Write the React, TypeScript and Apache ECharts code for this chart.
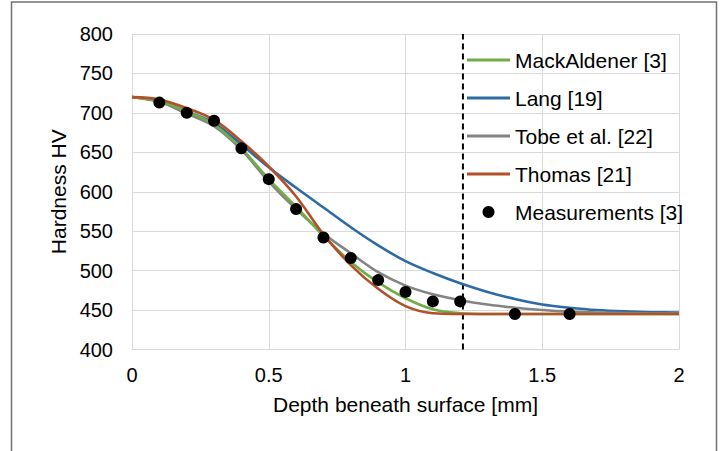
import React, { useEffect, useRef } from "react";
import * as echarts from "echarts";

const depth = [0, 0.1, 0.2, 0.3, 0.4, 0.5, 0.6, 0.7, 0.8, 0.9, 1.0, 1.1, 1.2, 1.3, 1.4, 1.5, 1.6, 1.7, 1.8, 1.9, 2.0];
const mackAldener = [720, 715, 702, 685, 655, 616, 581, 544, 511, 485, 465, 451, 446, 445, 445, 445, 445, 445, 445, 445, 445];
const lang = [720, 715, 702, 687, 660, 631, 605, 580, 555, 532, 512, 497, 484, 473, 464, 457, 453, 450, 448.3, 447.3, 446.7];
const tobe = [720, 714, 699, 683, 653, 613, 578, 547, 522, 498, 481, 470, 462.5, 457, 453, 450, 448, 447, 446.2, 445.6, 445.3];
const thomas = [720, 717, 706, 691, 664, 632, 594, 546, 507, 477, 455, 446, 445, 445, 445, 445, 445, 445, 445, 445, 445];

const measDepth = [0.1, 0.2, 0.3, 0.4, 0.5, 0.6, 0.7, 0.8, 0.9, 1.0, 1.1, 1.2, 1.4, 1.6];
const measHardness = [713, 700, 690, 655, 616, 578, 542, 516, 488, 473, 461, 461, 445, 445];

const markerDepth = 1.21;
const yRange = [400, 800];

const seriesNames = ["MackAldener [3]", "Lang [19]", "Tobe et al. [22]", "Thomas [21]", "Measurements [3]"];
const xAxisTitle = "Depth beneath surface [mm]";
const yAxisTitle = "Hardness HV";

const FONT = "Liberation Sans, Arial, sans-serif";
const LINE_ICON = "path://M0,0 L43,0 L43,3 L0,3 Z";

function pairs(xs: number[], ys: number[]) {
  return xs.map((x, i) => [x, ys[i]]);
}

export default function App() {
  const ref = useRef<HTMLDivElement>(null);
  useEffect(() => {
    if (!ref.current) return;
    const chart = echarts.init(ref.current, undefined, { renderer: "svg" });
    const lineSeries = (name: string, ys: number[], color: string, z: number) => ({
      name,
      type: "line",
      data: pairs(depth, ys),
      smooth: 0.35,
      showSymbol: false,
      symbol: "none",
      lineStyle: { color, width: 2.6 },
      itemStyle: { color },
      z,
    });
    chart.setOption({
      animation: false,
      backgroundColor: "#ffffff",
      textStyle: { fontFamily: FONT },
      graphic: [
        {
          type: "rect",
          silent: true,
          shape: { x: 11.5, y: 2, width: 705, height: 480 },
          style: { fill: "none", stroke: "#707070", lineWidth: 1.5 },
        },
      ],
      grid: { left: 132, right: 43, top: 34, bottom: 101.5, containLabel: false },
      xAxis: {
        type: "value",
        min: 0,
        max: 2,
        interval: 0.5,
        name: xAxisTitle,
        nameLocation: "middle",
        nameGap: 44,
        nameTextStyle: { fontSize: 21, color: "#000", fontFamily: FONT },
        axisLine: { show: true, lineStyle: { color: "#d9d9d9", width: 1 } },
        axisTick: { show: false },
        axisLabel: { fontSize: 20, color: "#000", margin: 15, fontFamily: FONT },
        splitLine: { show: true, lineStyle: { color: "#d9d9d9", width: 1 } },
      },
      yAxis: {
        type: "value",
        min: yRange[0],
        max: yRange[1],
        interval: 50,
        name: yAxisTitle,
        nameLocation: "middle",
        nameGap: 61,
        nameTextStyle: { fontSize: 21, color: "#000", fontFamily: FONT },
        axisLine: { show: true, lineStyle: { color: "#d9d9d9", width: 1 } },
        axisTick: { show: false },
        axisLabel: { fontSize: 20, color: "#000", margin: 19, fontFamily: FONT },
        splitLine: { show: true, lineStyle: { color: "#d9d9d9", width: 1 } },
      },
      legend: {
        orient: "vertical",
        left: 462,
        top: 43,
        itemWidth: 43,
        itemHeight: 12,
        itemGap: 14,
        textStyle: { fontSize: 21, color: "#000", lineHeight: 24, fontFamily: FONT },
        data: [
          { name: seriesNames[0], icon: LINE_ICON },
          { name: seriesNames[1], icon: LINE_ICON },
          { name: seriesNames[2], icon: LINE_ICON },
          { name: seriesNames[3], icon: LINE_ICON },
          { name: seriesNames[4], icon: "circle" },
        ],
      },
      series: [
        {
          name: "marker",
          type: "line",
          data: [
            [markerDepth, yRange[0]],
            [markerDepth, yRange[1]],
          ],
          symbol: "none",
          lineStyle: { color: "#000", width: 2, type: [6, 4] },
          z: 1,
          silent: true,
        },
        lineSeries(seriesNames[0], mackAldener, "#70AD47", 3),
        lineSeries(seriesNames[1], lang, "#2E6BA4", 2),
        lineSeries(seriesNames[2], tobe, "#838383", 2),
        lineSeries(seriesNames[3], thomas, "#B2502A", 4),
        {
          name: seriesNames[4],
          type: "scatter",
          data: pairs(measDepth, measHardness),
          symbol: "circle",
          symbolSize: 12,
          itemStyle: { color: "#000", opacity: 1 },
          z: 5,
        },
      ],
    });
    return () => chart.dispose();
  }, []);
  return (
    <div
      ref={ref}
      style={{ position: "fixed", left: 0, top: 0, width: 722, height: 451 }}
    />
  );
}
